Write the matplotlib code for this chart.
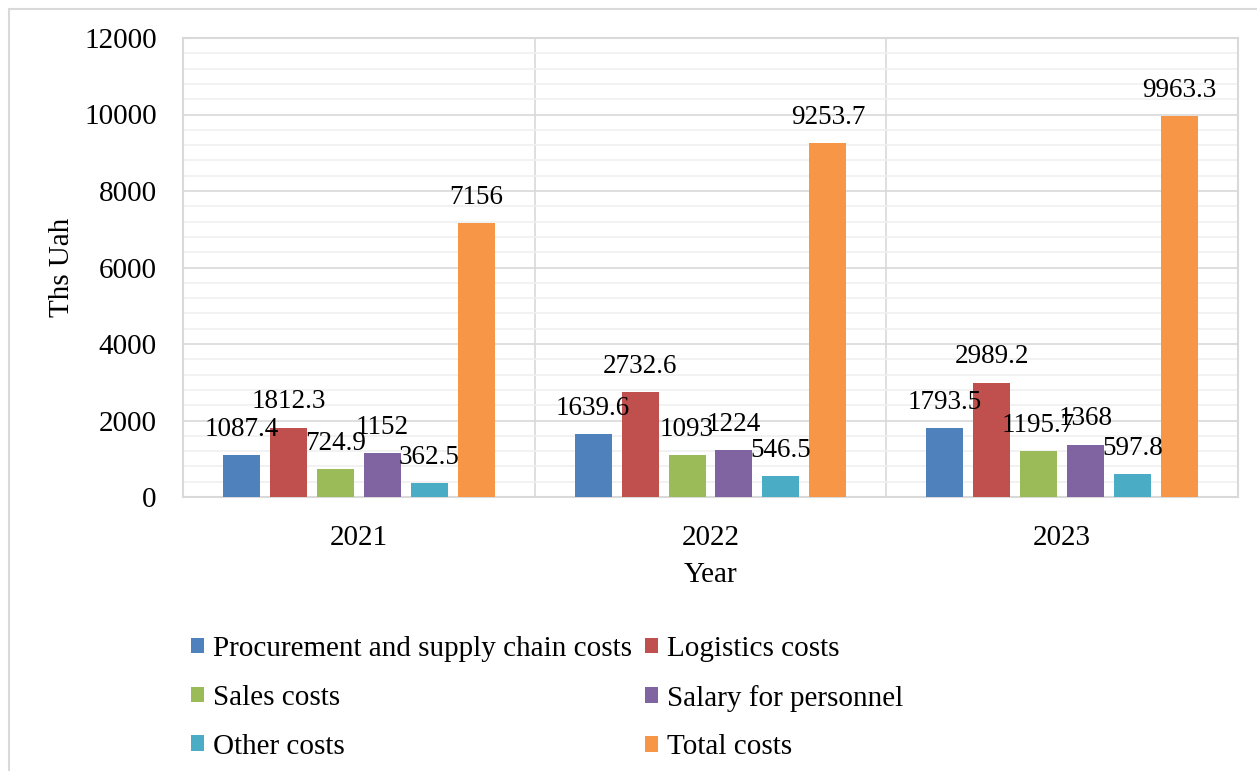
import matplotlib
matplotlib.use("Agg")
import matplotlib.pyplot as plt
from matplotlib.patches import Rectangle
import numpy as np

years = ["2021", "2022", "2023"]
series_names = ["Procurement and supply chain costs", "Logistics costs", "Sales costs",
                "Salary for personnel", "Other costs", "Total costs"]
procurement = [1087.4, 1639.6, 1793.5]
logistics = [1812.3, 2732.6, 2989.2]
sales = [724.9, 1093, 1195.7]
salary = [1152, 1224, 1368]
other = [362.5, 546.5, 597.8]
total = [7156, 9253.7, 9963.3]
label_texts = [
    ["1087.4", "1639.6", "1793.5"],
    ["1812.3", "2732.6", "2989.2"],
    ["724.9", "1093", "1195.7"],
    ["1152", "1224", "1368"],
    ["362.5", "546.5", "597.8"],
    ["7156", "9253.7", "9963.3"],
]
colors = ["#4F81BD", "#C0504D", "#9BBB59", "#8064A2", "#4BACC6", "#F79646"]

plt.rcParams['font.family'] = ['Liberation Serif', 'DejaVu Serif']

W, H = 1257, 771
fig = plt.figure(figsize=(W / 100, H / 100), dpi=100)
fig.patches.append(Rectangle((9 / W, -0.1), 1.2, 1 - 9 / H + 0.1, transform=fig.transFigure,
                             fill=False, edgecolor="#d9d9d9", linewidth=1.5))

ax = fig.add_axes([183 / W, 1 - 497 / H, (1238 - 183) / W, (497 - 38) / H])
x = np.arange(len(years))
step = 47 / 351.7
width = 37 / 351.7
all_series = [procurement, logistics, sales, salary, other, total]
handles = []
for i, (vals, name, col) in enumerate(zip(all_series, series_names, colors)):
    xs = x + (i - 2.5) * step
    b = ax.bar(xs, vals, width, color=col, label=name, zorder=3)
    handles.append(b)
    for xi, v, t in zip(xs, vals, label_texts[i]):
        ax.annotate(t, (xi, v), xytext=(0, 9.5), textcoords="offset points",
                    ha="center", va="bottom", fontsize=19.5, zorder=4)

ax.set_xlim(-0.5, 2.5)
ax.set_ylim(0, 12000)
ax.set_yticks(np.arange(0, 12001, 2000))
ax.set_yticks(np.arange(0, 12001, 400), minor=True)
ax.set_xticks(x)
ax.set_xticklabels(years)
ax.tick_params(axis="both", which="both", length=0, labelsize=21)
ax.tick_params(axis="y", pad=19)
ax.tick_params(axis="x", pad=20)
ax.grid(axis="y", which="major", color="#d9d9d9", linewidth=1.2, zorder=0)
ax.grid(axis="y", which="minor", color="#f0f0f0", linewidth=1.2, zorder=0)
for xv in [0.5, 1.5]:
    ax.axvline(xv, color="#d9d9d9", linewidth=1.2, zorder=1)
for s in ax.spines.values():
    s.set_color("#d9d9d9")
    s.set_linewidth(1.5)

ax.set_ylabel("Ths Uah", fontsize=21)
ax.yaxis.set_label_coords((75 - 183) / (1238 - 183), 0.5)
ax.set_xlabel("Year", fontsize=21)
ax.xaxis.set_label_coords(0.5, -(562 - 497) / (497 - 38))

order = [0, 2, 4, 1, 3, 5]
fig.legend([handles[k] for k in order], [series_names[k] for k in order],
           loc="upper left", bbox_to_anchor=(191 / W, 1 - 636 / H), ncol=2,
           frameon=False, fontsize=21, handlelength=0.45, handleheight=0.45,
           handletextpad=0.3, columnspacing=0.45, labelspacing=0.78,
           borderaxespad=0, borderpad=0)

fig.savefig("out.png", dpi=100)
